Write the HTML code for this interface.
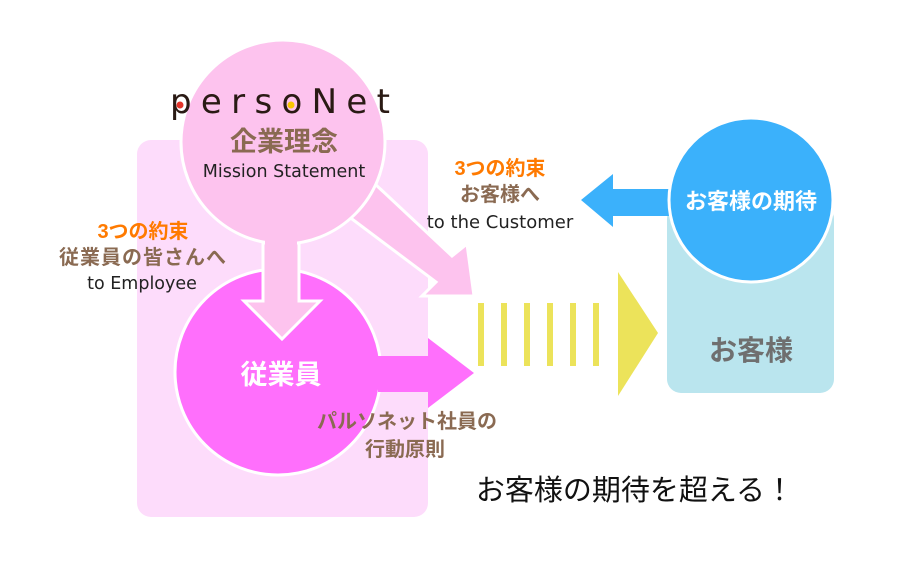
<!DOCTYPE html>
<html><head><meta charset="utf-8"><style>
html,body{margin:0;padding:0;background:#fff;}
svg{display:block;font-family:"Liberation Sans","Noto Sans CJK JP",sans-serif;}
.en{font-family:"DejaVu Sans",sans-serif;}
</style></head><body>
<svg width="900" height="565" viewBox="0 0 900 565" xmlns="http://www.w3.org/2000/svg">
<rect x="137" y="140" width="291" height="377" rx="14" fill="#fddcfb"/>
<rect x="667" y="205" width="167" height="188" rx="14" fill="#bae5ee"/>
<polygon points="375,184 452,256 467,244 474,296 422,296 436,282 348,216" fill="#fdc3ee" stroke="#fff" stroke-width="3"/>
<circle cx="283" cy="142" r="102" fill="#fdc3ee" stroke="#fff" stroke-width="3"/>
<circle cx="278" cy="372" r="103" fill="#ff6ffc" stroke="#fff" stroke-width="3"/>
<polygon points="263,243 299,243 299,301 320,301 282,339 244,301 263,301" fill="#fdc3ee" stroke="#fff" stroke-width="3"/>
<rect x="265" y="236" width="32" height="12" fill="#fdc3ee"/>
<polygon points="378,356 428,356 428,338 474,373 428,408 428,392 378,392" fill="#ff6ffc"/>
<g fill="#ece35a">
<rect x="478" y="303" width="6" height="63"/><rect x="501" y="303" width="6" height="63"/>
<rect x="524" y="303" width="6" height="63"/><rect x="547" y="303" width="6" height="63"/>
<rect x="570" y="303" width="6" height="63"/><rect x="593" y="303" width="6" height="63"/>
<polygon points="618,272 658,333 618,396"/>
</g>
<polygon points="581,200 613,174 613,189 680,189 680,216 613,216 613,227" fill="#3bb1fb"/>
<circle cx="751" cy="200" r="82" fill="#3bb1fb" stroke="#fff" stroke-width="3"/>
<text x="751" y="209" text-anchor="middle" font-size="22" font-weight="bold" fill="#fff">お客様の期待</text>
<text x="751" y="360" text-anchor="middle" font-size="28" font-weight="bold" fill="#6f6f6f">お客様</text>
<text x="170" y="113" font-size="34" fill="#2a1a14" textLength="220" lengthAdjust="spacing" class="en" font-weight="normal">persoNet</text>
<circle cx="180" cy="105" r="3.5" fill="#e3342a"/>
<circle cx="291" cy="105" r="3.5" fill="#f7c600"/>
<text x="284" y="151" text-anchor="middle" font-size="27" font-weight="bold" fill="#8a6a52">企業理念</text>
<text x="284" y="177" text-anchor="middle" font-size="17.5" fill="#222" class="en">Mission Statement</text>
<text x="281" y="384" text-anchor="middle" font-size="27" font-weight="bold" fill="#fff">従業員</text>
<text x="143" y="238" text-anchor="middle" font-size="20" font-weight="bold" fill="#ff7a00">3つの約束</text>
<text x="143" y="264" text-anchor="middle" font-size="20" font-weight="bold" fill="#8a6a52" letter-spacing="1">従業員の皆さんへ</text>
<text x="142" y="289" text-anchor="middle" font-size="17.5" fill="#222" class="en">to Employee</text>
<text x="500" y="175" text-anchor="middle" font-size="20" font-weight="bold" fill="#ff7a00">3つの約束</text>
<text x="500" y="201" text-anchor="middle" font-size="20" font-weight="bold" fill="#8a6a52">お客様へ</text>
<text x="500" y="228" text-anchor="middle" font-size="18" fill="#222" class="en">to the Customer</text>
<text x="407" y="428" text-anchor="middle" font-size="20" font-weight="bold" fill="#8a6a52">パルソネット社員の</text>
<text x="405" y="456" text-anchor="middle" font-size="20" font-weight="bold" fill="#8a6a52">行動原則</text>
<text x="635" y="500" text-anchor="middle" font-size="29" fill="#111">お客様の期待を超える！</text>
</svg>
</body></html>
